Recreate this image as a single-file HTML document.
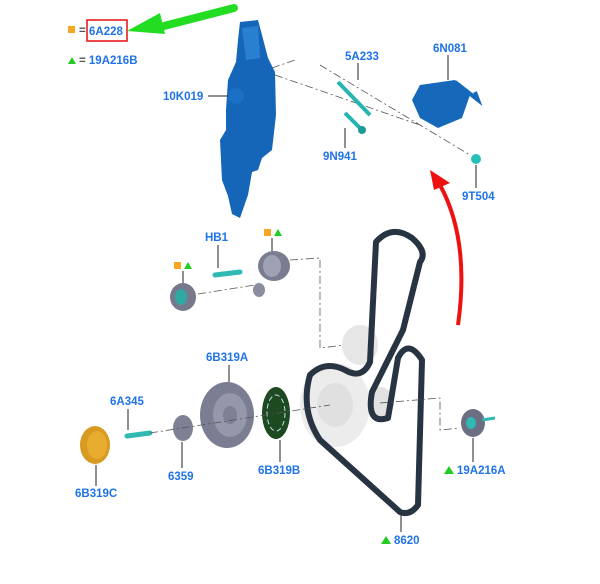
<!DOCTYPE html>
<html><head><meta charset="utf-8"><style>
html,body{margin:0;padding:0;background:#fff;}
svg text{font-family:"Liberation Sans",sans-serif;font-weight:bold;font-size:11.5px;fill:#1f73e8;}
</style></head><body>
<svg width="600" height="579" viewBox="0 0 600 579" xmlns="http://www.w3.org/2000/svg">
<!-- legend -->
<rect x="68" y="26" width="7" height="7" fill="#f5a623"/>
<text x="79" y="34" style="fill:#555">=</text>
<rect x="87" y="20" width="40" height="21" fill="none" stroke="#e41d1d" stroke-width="1.6"/>
<text x="89" y="35">6A228</text>
<polygon points="68,64 72,57 76,64" fill="#22cc22"/>
<text x="79" y="64"><tspan style="fill:#555">=</tspan> 19A216B</text>
<!-- green arrow -->
<line x1="234" y1="8" x2="160" y2="27" stroke="#22dd22" stroke-width="8" stroke-linecap="round"/>
<polygon points="127,31 160,13 165,34" fill="#22dd22"/>
<!-- bracket 10K019 -->
<path d="M240,22 L258,20 L262,35 L268,58 L275,72 L276,115 L272,150 L262,158 L258,170 L252,172 L248,195 L240,218 L232,214 L228,196 L222,180 L220,140 L226,130 L226,110 L228,80 L236,62 L238,40 Z" fill="#1566b8"/>
<path d="M242,28 L258,26 L260,58 L246,60 Z" fill="#2a80d0"/>
<circle cx="236" cy="96" r="8" fill="#1a70c4"/>
<text x="163" y="100">10K019</text>
<line x1="208" y1="96" x2="228" y2="96" stroke="#222" stroke-width="1"/>
<!-- dash lines upper -->
<path d="M272,68 L295,60 M275,75 L420,125 M320,65 L470,155" stroke="#555" stroke-width="0.8" stroke-dasharray="8,3,2,3" fill="none"/>
<line x1="338" y1="82" x2="370" y2="115" stroke="#26b5b0" stroke-width="4"/>
<text x="345" y="60">5A233</text><line x1="358" y1="63" x2="358" y2="80" stroke="#222"/>
<line x1="345" y1="113" x2="360" y2="128" stroke="#26b5b0" stroke-width="4"/>
<circle cx="362" cy="130" r="4" fill="#1f9a96"/>
<text x="323" y="160">9N941</text><line x1="345" y1="128" x2="345" y2="148" stroke="#222"/>
<path d="M420,85 L455,80 L470,95 L462,118 L438,128 L420,118 L412,100 Z" fill="#1668ba"/>
<path d="M455,82 L478,100 L475,92" stroke="#1668ba" stroke-width="4" fill="none"/>
<text x="433" y="52">6N081</text><line x1="448" y1="55" x2="448" y2="80" stroke="#222"/>
<circle cx="476" cy="159" r="5" fill="#26c0b8"/>
<text x="462" y="200">9T504</text><line x1="476" y1="165" x2="476" y2="188" stroke="#222"/>
<!-- red arrow -->
<path d="M458,325 Q470,240 440,185" stroke="#ee1111" stroke-width="4" fill="none"/>
<polygon points="430,170 450,183 434,190" fill="#ee1111"/>
<!-- middle group -->
<text x="205" y="241">HB1</text><line x1="218" y1="245" x2="218" y2="268" stroke="#222"/>
<line x1="215" y1="275" x2="240" y2="272" stroke="#30b8b2" stroke-width="5" stroke-linecap="round"/>
<rect x="264" y="229" width="7" height="7" fill="#f5a623"/><polygon points="274,236 278,229 282,236" fill="#22cc22"/>
<line x1="272" y1="238" x2="272" y2="252" stroke="#222"/>
<ellipse cx="274" cy="266" rx="16" ry="15" fill="#7a7c90"/>
<ellipse cx="272" cy="266" rx="9" ry="11" fill="#9fa1b5"/>
<ellipse cx="259" cy="290" rx="6" ry="7" fill="#8a8ca0"/>
<rect x="174" y="262" width="7" height="7" fill="#f5a623"/><polygon points="184,269 188,262 192,269" fill="#22cc22"/>
<line x1="183" y1="271" x2="183" y2="285" stroke="#222"/>
<ellipse cx="183" cy="297" rx="13" ry="14" fill="#76788c"/>
<ellipse cx="181" cy="297" rx="6" ry="8" fill="#30a8a4"/>
<path d="M198,294 L255,285 M290,260 L320,258 L320,348 L345,345" stroke="#555" stroke-width="0.8" stroke-dasharray="8,3,2,3" fill="none"/>
<!-- tensioner ghost -->
<ellipse cx="360" cy="345" rx="18" ry="20" fill="#e6e6e6"/>
<ellipse cx="380" cy="403" rx="14" ry="16" fill="#e2e2e2"/>
<!-- big crank pulley ghost -->
<ellipse cx="335" cy="405" rx="35" ry="42" fill="#ececec"/>
<ellipse cx="335" cy="405" rx="18" ry="22" fill="#e0e0e0"/>
<!-- belt -->
<path d="M376,242 Q392,224 412,238 Q428,252 420,262 L403,330 L372,392 Q366,425 388,418 L398,358 Q408,338 422,360 L418,505 Q410,516 400,512 L320,440 Q300,410 310,375 Q325,360 345,370 Q362,380 370,362 Z" fill="none" stroke="#283442" stroke-width="6" stroke-linejoin="round"/>
<!-- lower parts -->
<ellipse cx="227" cy="415" rx="27" ry="33" fill="#7b7d93"/>
<ellipse cx="230" cy="415" rx="17" ry="22" fill="#9597ab"/>
<ellipse cx="230" cy="415" rx="7" ry="9" fill="#7e8094"/>
<text x="206" y="361">6B319A</text><line x1="229" y1="365" x2="229" y2="382" stroke="#222"/>
<ellipse cx="276" cy="413" rx="14" ry="26" fill="#1e4a22"/>
<ellipse cx="276" cy="413" rx="9" ry="18" fill="none" stroke="#cde" stroke-width="1" stroke-dasharray="5,3"/>
<text x="258" y="474">6B319B</text><line x1="280" y1="440" x2="280" y2="462" stroke="#222"/>
<ellipse cx="183" cy="428" rx="10" ry="13" fill="#7e8094"/>
<text x="168" y="480">6359</text><line x1="182" y1="442" x2="182" y2="468" stroke="#222"/>
<line x1="127" y1="436" x2="150" y2="433" stroke="#30b8b2" stroke-width="5" stroke-linecap="round"/>
<text x="110" y="405">6A345</text><line x1="128" y1="409" x2="128" y2="430" stroke="#222"/>
<ellipse cx="95" cy="445" rx="15" ry="19" fill="#d89a20"/>
<ellipse cx="97" cy="445" rx="10" ry="14" fill="#e8ad2e"/>
<text x="75" y="497">6B319C</text><line x1="96" y1="465" x2="96" y2="486" stroke="#222"/>
<path d="M150,433 L330,405 M380,403 L440,398 L440,430 L460,428" stroke="#555" stroke-width="0.8" stroke-dasharray="8,3,2,3" fill="none"/>
<ellipse cx="473" cy="423" rx="12" ry="14" fill="#6c6e84"/>
<ellipse cx="471" cy="423" rx="5" ry="6" fill="#30b8b2"/>
<line x1="482" y1="420" x2="495" y2="418" stroke="#30b8b2" stroke-width="3"/>
<polygon points="444,474 449,466 454,474" fill="#22cc22"/>
<text x="457" y="474">19A216A</text><line x1="473" y1="438" x2="473" y2="462" stroke="#222"/>
<line x1="401" y1="513" x2="401" y2="532" stroke="#222"/>
<polygon points="381,544 386,536 391,544" fill="#22cc22"/>
<text x="394" y="544">8620</text>
</svg>
</body></html>
